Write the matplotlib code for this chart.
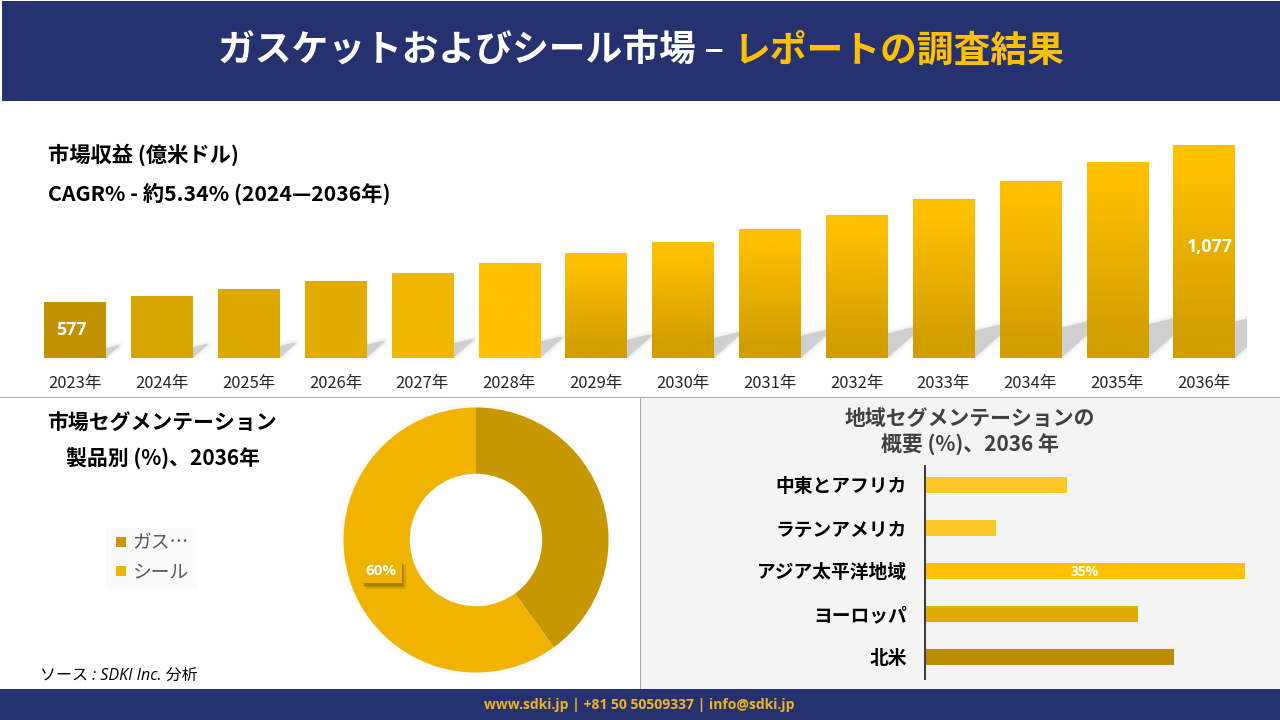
import matplotlib
matplotlib.use('Agg')
import matplotlib.pyplot as plt
import matplotlib.patheffects as pe
import numpy as np
from matplotlib.colors import LinearSegmentedColormap
from matplotlib.lines import Line2D
from matplotlib.patches import Rectangle, Polygon, Circle

plt.rcParams['font.family'] = ['Noto Sans CJK JP', 'DejaVu Sans']

# Market revenue
years = ['2023年', '2024年', '2025年', '2026年', '2027年', '2028年', '2029年',
         '2030年', '2031年', '2032年', '2033年', '2034年', '2035年', '2036年']
revenue = [577, 596, 618, 644, 669, 701, 733, 768, 809, 854, 905, 962, 1023, 1077]
revenue_labels = {0: '577', 13: '1,077'}
bar_top_colors = ['#C29200', '#D8A500', '#DCA800', '#E3AD00', '#F0B700', '#FFC000', '#FFC000',
                  '#FFC000', '#FFC000', '#FFC000', '#FFC000', '#FFC000', '#FFC000', '#FFC000']
bar_low_colors = ['#C29200', '#D8A500', '#DCA800', '#E3AD00', '#F0B700', '#FFC000', '#D29E00',
                  '#D29E00', '#D29E00', '#D29E00', '#D29E00', '#D29E00', '#D29E00', '#D29E00']

# Product split
products = ['ガス…', 'シール']
product_share = [40, 60]
product_colors = ['#C69700', '#F0B400']

# Regions, top to bottom
regions = ['中東とアフリカ', 'ラテンアメリカ', 'アジア太平洋地域', 'ヨーロッパ', '北米']
region_share = [15.5, 7.8, 35, 23.3, 27.2]
region_colors = ['#FFC727', '#FFC727', '#FFC000', '#E3AC00', '#BC8C00']

NAVY = '#25326F'
W, H = 1280, 720


def fx(x):
    return x / W


def fy(y):
    return 1 - y / H


def axes_px(left, top, right, bottom):
    return fig.add_axes([fx(left), fy(bottom), (right - left) / W, (bottom - top) / H])


def page_text(x, y, s, **kw):
    kw.setdefault('va', 'center')
    return fig.text(fx(x), fy(y), s, **kw)


def page_rect(x, y, w, h, color):
    # zorder below the axes, figure artists sit on top of them otherwise
    fig.add_artist(Rectangle((fx(x), fy(y + h)), w / W, h / H, transform=fig.transFigure, color=color, lw=0,
                             zorder=-1))


fig = plt.figure(figsize=(12.8, 7.2), dpi=100, facecolor='white')

# Page furniture
page_rect(2, 1, 1278, 100, NAVY)
page_rect(0, 689, 1280, 31, NAVY)
page_rect(641, 398, 639, 291, '#F4F4F4')
page_rect(0, 397, 1280, 1.3, '#ABABAB')
page_rect(640, 398, 1.3, 291, '#ABABAB')
page_rect(105, 528, 92, 61, '#FAFAFA')

page_text(218, 51, 'ガスケットおよびシール市場 –', color='white', fontsize=26.5, fontweight='bold')
page_text(734, 51, 'レポートの調査結果', color='#FFC000', fontsize=26.5, fontweight='bold')
page_text(48, 155, '市場収益 (億米ドル)', color='black', fontsize=15.3, fontweight='bold')
page_text(48, 194, 'CAGR% - 約5.34% (2024—2036年)', color='black', fontsize=15.3, fontweight='bold')
page_text(162, 422, '市場セグメンテーション', color='black', fontsize=15, fontweight='bold', ha='center')
page_text(163, 459, '製品別 (%)、2036年', color='black', fontsize=15, fontweight='bold', ha='center')
page_text(970, 418, '地域セグメンテーションの', color='#404040', fontsize=15, fontweight='bold', ha='center')
page_text(970, 445, '概要 (%)、2036 年', color='#404040', fontsize=15, fontweight='bold', ha='center')
page_text(40, 676, 'ソース : SDKI Inc. 分析', color='black', fontsize=11.5, style='italic',
          family=['Open Sans', 'Noto Sans CJK JP'])
page_text(639, 705.5, 'www.sdki.jp | +81 50 50509337 | info@sdki.jp', color='#F0B323', fontsize=10,
          fontweight='bold', ha='center', family=['Open Sans', 'DejaVu Sans'])

# Revenue bars
ax = axes_px(31.6, 130, 1247.4, 358)
ax.patch.set_alpha(0)
ymin, ymax = 399, 1125
pos = np.arange(len(years))
bar_w = 0.705
ax.set_xlim(-0.5, len(years) - 0.5)
ax.set_ylim(ymin, ymax)

px_x = 86.85
px_y = (ymax - ymin) / 228
for p, v in zip(pos, revenue):
    h = (v - ymin) / px_y
    right = p + bar_w / 2
    shadow = [(right, ymin),
              (right + 0.24 * h / px_x, ymin + 0.21 * h * px_y),
              (right + 0.24 * h / px_x, ymin + 0.22 * h * px_y),
              (right + 0.2 * h / px_x, ymin + 0.22 * h * px_y),
              (right, ymin + 0.17 * h * px_y)]
    for lw, alpha in [(6, 0.06), (4, 0.1), (2, 0.2), (0, 1)]:
        ax.add_patch(Polygon(shadow, closed=True, facecolor='#CFCFCF', edgecolor='#CFCFCF', lw=lw,
                             alpha=alpha, zorder=1))

bars = ax.bar(pos, np.array(revenue) - ymin, bottom=ymin, width=bar_w, color=bar_top_colors, zorder=2)
for rect, top, low in zip(bars, bar_top_colors, bar_low_colors):
    cmap = LinearSegmentedColormap.from_list('bar', [(0, low), (0.1, low), (0.9, top), (1, top)], N=256)
    x0, w = rect.get_x(), rect.get_width()
    y0, bh = rect.get_y(), rect.get_height()
    im = ax.imshow(np.linspace(1, 0, 256).reshape(-1, 1), cmap=cmap, vmin=0, vmax=1, aspect='auto',
                   extent=(x0, x0 + w, y0, y0 + bh), zorder=3)
    im.set_clip_path(rect)
ax.set_xlim(-0.5, len(years) - 0.5)
ax.set_ylim(ymin, ymax)

offsets = {0: -4, 13: 6}
for i, label in revenue_labels.items():
    ax.annotate(label, (pos[i], ymin + 0.53 * (revenue[i] - ymin)), xytext=(offsets[i] * 0.72, -1),
                textcoords='offset points', color='white', fontsize=12.8, fontweight='bold',
                ha='center', va='center', zorder=5, family=['Open Sans', 'DejaVu Sans'])

ax.set_xticks(pos)
ax.set_xticklabels(years, fontsize=11.9, color='#262626')
ax.set_yticks([])
ax.tick_params(axis='x', length=0, pad=12.2)
for s in ax.spines.values():
    s.set_visible(False)

# Donut
R = 132.5
side = R * 1.25
ax2 = axes_px(476 - side, 540 - side, 476 + side, 540 + side)
for r, a in [(1.03, 0.012), (1.02, 0.015), (1.01, 0.02)]:
    ax2.add_patch(Circle((0, 0), r, facecolor='#808080', edgecolor='none', alpha=a, zorder=0))
wedges, _ = ax2.pie(product_share, colors=product_colors, startangle=90, counterclock=False, radius=1,
                    wedgeprops=dict(width=0.5, linewidth=0))
ax2.add_patch(Circle((0, 0), 0.5, facecolor='white', edgecolor='none', zorder=0.5))
ax2.set_xlim(-1.25, 1.25)
ax2.set_ylim(-1.25, 1.25)
ax2.patch.set_alpha(0)

mid = np.radians(360 * (product_share[0] + product_share[1] / 2) / sum(product_share))
t = ax2.text(0.75 * np.sin(mid), 0.75 * np.cos(mid) - 0.005, f'{product_share[1]}%', color='white', fontsize=11,
             fontweight='bold', ha='center', va='center', zorder=6, family=['Open Sans', 'DejaVu Sans'],
             bbox=dict(boxstyle='square,pad=0.3', facecolor=product_colors[1], edgecolor='none'))
t.get_bbox_patch().set_path_effects([pe.SimplePatchShadow(offset=(3, -4), shadow_rgbFace='#7A5C00', alpha=0.2),
                                     pe.SimplePatchShadow(offset=(2, -3), shadow_rgbFace='#7A5C00', alpha=0.3),
                                     pe.SimplePatchShadow(offset=(1, -2), shadow_rgbFace='#7A5C00', alpha=0.3),
                                     pe.Normal()])

handles = [Line2D([], [], marker='s', linestyle='none', markersize=7.3, markeredgewidth=0, color=c)
           for c in product_colors]
ax2.legend(handles, products, loc='center left', bbox_to_anchor=(fx(115), fy(557.5)),
           bbox_transform=fig.transFigure, fontsize=13.5, labelcolor='#595959', frameon=False,
           handlelength=0.6, handletextpad=0.3, labelspacing=0.44, borderpad=0, borderaxespad=0)

# Regional bars
ax3 = axes_px(925, 465.5, 1245, 678.5)
ax3.patch.set_alpha(0)
rpos = np.arange(len(regions))
ax3.barh(rpos, region_share, height=0.37, color=region_colors, zorder=2)
ax3.set_xlim(0, max(region_share))
ax3.set_ylim(4.5, -0.45)
ax3.set_yticks(rpos)
ax3.set_yticklabels(regions, fontsize=13.5, fontweight='bold', color='black')
ax3.set_xticks([])
ax3.tick_params(axis='y', length=0, pad=13)
for name, s in ax3.spines.items():
    s.set_visible(name == 'left')
ax3.spines['left'].set_color('#404040')
ax3.spines['left'].set_linewidth(1.5)
ax3.annotate('35%', (region_share[2] / 2, rpos[2]), xytext=(0, -1), textcoords='offset points', color='white',
             fontsize=10, fontweight='bold', ha='center', va='center', zorder=4,
             family=['Open Sans', 'DejaVu Sans'])

fig.savefig('out.png', dpi=100)
